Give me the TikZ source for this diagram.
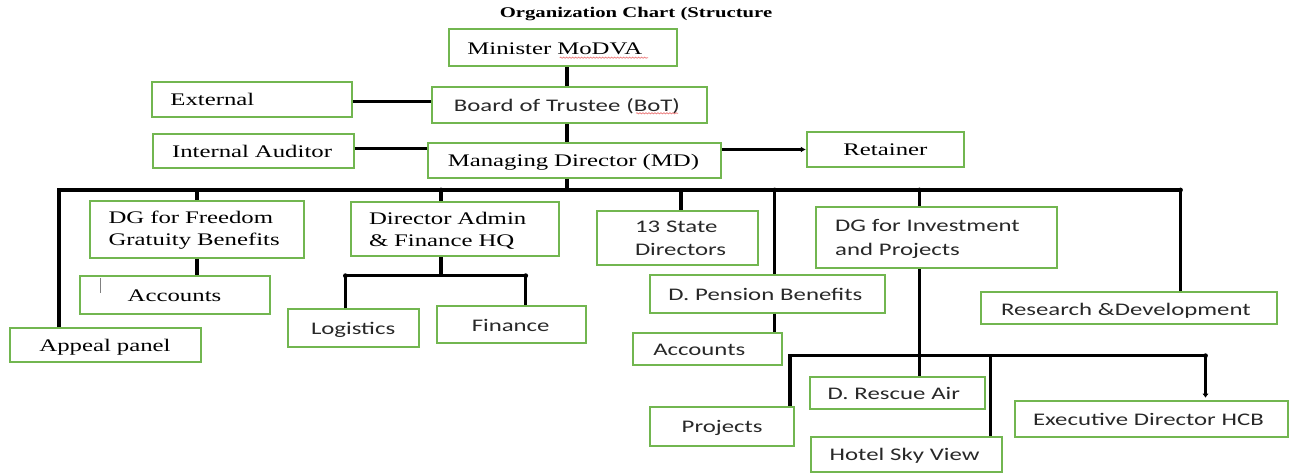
\documentclass[tikz,border=0pt]{standalone}
\usepackage{fontspec}
\setmainfont{Liberation Serif}[FakeStretch=1.4]
\newfontfamily\calfont{Carlito}[FakeStretch=1.4]
\usetikzlibrary{arrows.meta,decorations.pathmorphing}
\definecolor{boxgreen}{RGB}{114,182,80}
\definecolor{sanstext}{RGB}{40,40,40}
\definecolor{spellred}{RGB}{235,120,120}

\tikzset{
  box/.style={draw=boxgreen, line width=2pt, rectangle, inner ysep=0pt, align=left},
  serifbox/.style={box, font=\fontsize{17.7}{22}\selectfont\rmfamily, text=black},
  sansbox/.style={box, font=\fontsize{17.7}{23.3}\selectfont\calfont, text=sanstext},
  oneline/.style={text height=12.4pt, text depth=0pt},
  twoline/.style={text height=11.8pt, text depth=#1},
  link/.style={draw=black, line width=3.4pt},
  thinlink/.style={draw=black, line width=2.2pt, -{Latex[length=5pt,width=6pt]}},
  knot/.style={fill=black},
  spell/.style={draw=spellred, line width=0.7pt, decorate,
    decoration={snake, amplitude=0.6pt, segment length=3pt}},
}

\begin{document}
\begin{tikzpicture}[x=1pt, y=-1pt]
\useasboundingbox (0,0) rectangle (1294,473);

% heading
\node[font=\fontsize{14.8}{18}\selectfont\bfseries, inner sep=0pt, anchor=base] (title)
  at (636,17.3) {Organization Chart (Structure};

% top of the hierarchy
\node[serifbox, oneline, minimum width=228pt, minimum height=37pt, inner xsep=18.7pt, text width=190.6pt]
  (min) at (562.7,48) {\mbox{Minister MoDVA}};
\node[sansbox, oneline, minimum width=274.3pt, minimum height=35.4pt, inner xsep=21.6pt, text width=231.1pt]
  (bot) at (569.5,105) {\mbox{Board of Trustee (BoT)}};
\node[serifbox, oneline, minimum width=200.4pt, minimum height=35pt, inner xsep=18.4pt, text width=163.6pt]
  (ext) at (252.2,99.2) {\mbox{External}};
\node[serifbox, oneline, minimum width=200.2pt, minimum height=33.7pt, inner xsep=18.6pt, text width=163pt]
  (ia) at (253.5,150.85) {\mbox{Internal Auditor}};
\node[serifbox, oneline, minimum width=293pt, minimum height=35pt, inner xsep=19.5pt, text width=254pt]
  (md) at (574.8,160.2) {\mbox{Managing Director (MD)}};
\node[serifbox, oneline, align=center, minimum width=157.2pt, minimum height=34.4pt, inner xsep=10pt, text width=137.2pt]
  (ret) at (885.4,149.5) {Retainer};

% second level
\node[serifbox, twoline=22.4pt, minimum width=214.7pt, minimum height=57pt, inner xsep=19pt, text width=176.7pt]
  (dgf) at (196.95,229.2) {\mbox{DG for Freedom}\\\mbox{Gratuity Benefits}};
\node[serifbox, oneline, minimum width=190.7pt, minimum height=38.3pt, inner xsep=48.1pt, text width=94.5pt]
  (acc1) at (174.95,294.85) {\mbox{Accounts}};
\node[serifbox, oneline, minimum width=190.6pt, minimum height=33.7pt, inner xsep=29pt, text width=132.6pt]
  (app) at (105.7,345.15) {\mbox{Appeal panel}};
\node[serifbox, twoline=21.7pt, minimum width=208.3pt, minimum height=54pt, inner xsep=18pt, text width=172.3pt]
  (da) at (455.15,229.3) {\mbox{Director Admin}\\\mbox{\& Finance HQ}};
\node[sansbox, oneline, minimum width=130.7pt, minimum height=38pt, inner xsep=23pt, text width=84.7pt]
  (log) at (353.35,328.3) {\mbox{Logistics}};
\node[sansbox, oneline, minimum width=148.4pt, minimum height=37pt, inner xsep=34.4pt, text width=79.6pt]
  (fin) at (511.6,324.8) {\mbox{Finance}};
\node[sansbox, twoline=23.4pt, minimum width=161.6pt, minimum height=54pt, inner xsep=38.3pt, text width=85pt]
  (state) at (677.5,238) {\mbox{13 State}\\\mbox{Directors}};
\node[sansbox, oneline, minimum width=235.6pt, minimum height=37.7pt, inner xsep=18.8pt, text width=198pt]
  (pen) at (767.4,293.85) {\mbox{D. Pension Benefits}};
\node[sansbox, oneline, minimum width=148.4pt, minimum height=31.7pt, inner xsep=20pt, text width=108.4pt]
  (acc2) at (707.5,349.15) {\mbox{Accounts}};
\node[sansbox, twoline=23.3pt, minimum width=240.6pt, minimum height=61.6pt, inner xsep=18.8pt, text width=203pt]
  (dgi) at (936.7,237.5) {\mbox{DG for Investment}\\\mbox{and Projects}};
\node[sansbox, oneline, text height=15pt, minimum width=296.5pt, minimum height=31.7pt, inner xsep=20.3pt, text width=255.9pt]
  (rd) at (1128.95,308.15) {\mbox{Research \&Development}};

% investment branch
\node[sansbox, oneline, minimum width=143.9pt, minimum height=39.3pt, inner xsep=31.3pt, text width=81.3pt]
  (proj) at (722.35,426.35) {\mbox{Projects}};
\node[sansbox, oneline, text height=13.6pt, minimum width=174.8pt, minimum height=32.3pt, inner xsep=18pt, text width=138.8pt]
  (resc) at (897.1,392.85) {\mbox{D. Rescue Air}};
\node[sansbox, oneline, minimum width=191pt, minimum height=35.6pt, inner xsep=18.7pt, text width=153.6pt]
  (hotel) at (906.5,454.5) {\mbox{Hotel Sky View}};
\node[sansbox, oneline, minimum width=273.1pt, minimum height=36.6pt, inner xsep=18.5pt, text width=236.1pt]
  (exec) at (1151.05,419) {\mbox{Executive Director HCB}};

% bus and branch points
\coordinate (spine) at (567,190);
\coordinate (busL) at (59,190);
\coordinate (busR) at (1180.5,190);
\coordinate (daX) at (441.1,190);
\coordinate (stX) at (680.9,190);
\coordinate (penX) at (774.7,190);
\coordinate (dgiX) at (919.4,190);
\coordinate (sbL) at (345.4,275.7);
\coordinate (sbR) at (525.7,275.7);
\coordinate (sb2L) at (790,355.7);
\coordinate (sb2R) at (1205.5,355.7);
\coordinate (hX) at (990.3,355.7);

% spine through the top boxes
\draw[link] (min.south -| spine) -- (bot.north -| spine);
\draw[link] (bot.south -| spine) -- (md.north -| spine);
\draw[link] (md.south -| spine) -- (spine);

% side links
\draw[link] ([yshift=-2.5pt]ext.east) -- ([yshift=-2.5pt]ext.east -| bot.west);
\draw[link] ([yshift=2.5pt]ia.east) -- ([yshift=2.5pt]ia.east -| md.west);
\draw[thinlink] (ret.west -| md.east) -- (ret.west);

% main bus
\draw[link] (app.north -| busL) -- (busL) -- (busR) -- (rd.north -| busR);
\draw[link] (dgf.north |- busL) -- (dgf.north);
\draw[link] (daX) -- (da.north -| daX);
\draw[link] (stX) -- (state.north -| stX);
\draw[link] (penX) -- (pen.north -| penX);
\draw[link] (dgiX) -- (dgi.north -| dgiX);

% sub-branches
\draw[link] (dgf.south) -- (dgf.south |- acc1.north);
\draw[link] (da.south -| daX) -- (daX |- sbL);
\draw[link] (log.north -| sbL) -- (sbL) -- (sbR) -- (fin.north -| sbR);
\draw[link] (pen.south -| penX) -- (acc2.north -| penX);
\draw[link] (dgi.south -| dgiX) -- (resc.north -| dgiX);
\draw[link] (proj.north -| sb2L) -- (sb2L) -- (sb2R);
\draw[link] (hX) -- (hotel.north -| hX);
\draw[link, line width=3pt, -{Latex[length=4pt,width=6.5pt]}] (sb2R) -- ([yshift=2pt]exec.north -| sb2R);

% small knots where lines start
\foreach \k in {busR,daX,penX,dgiX,sbL,sbR,sb2R}
  \fill[knot] (\k) circle (2.4pt);

% text cursor and spell-check marks
\draw[gray, line width=0.8pt] (100.7,277.7) -- (100.7,293.3);
\draw[spell] (559.7,57.7) -- (648,57.7);
\draw[spell] (636,113.3) -- (678,113.3);
\end{tikzpicture}
\end{document}
